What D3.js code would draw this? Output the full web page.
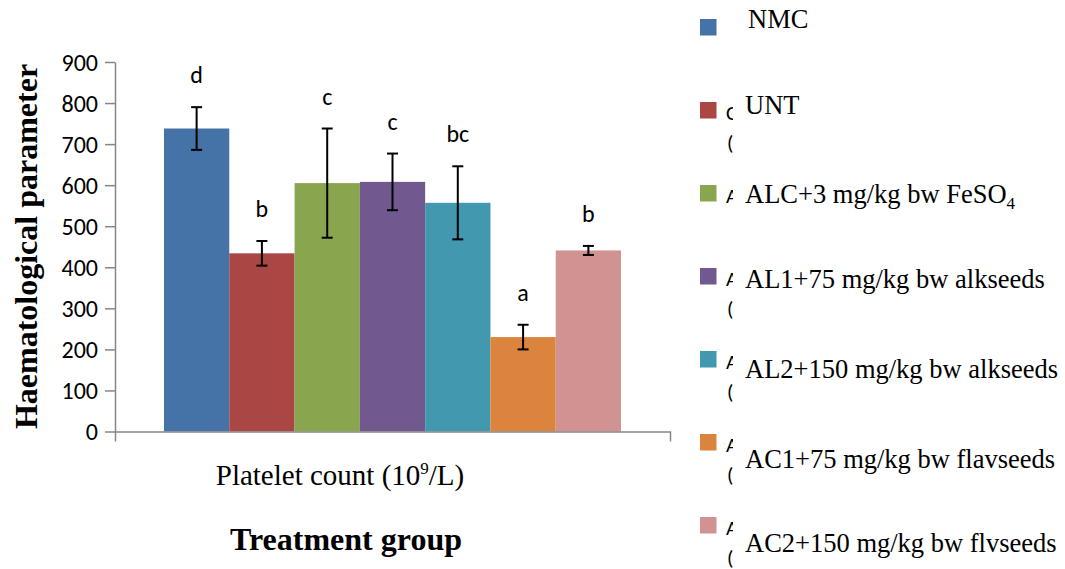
<!DOCTYPE html>
<html>
<head>
<meta charset="utf-8">
<script src="https://cdn.jsdelivr.net/npm/d3@7/dist/d3.min.js"></script>
<style>
  html, body { margin: 0; padding: 0; background: #fff; }
  svg { display: block; }
</style>
</head>
<body>
<svg id="chart" width="1065" height="569"></svg>
<script>
// ---------------- DATA ----------------
const category = "Platelet count";
const groups = [
  "NMC",
  "UNT",
  "ALC+3 mg/kg bw FeSO4",
  "AL1+75 mg/kg bw alkseeds",
  "AL2+150 mg/kg bw alkseeds",
  "AC1+75 mg/kg bw flavseeds",
  "AC2+150 mg/kg bw flvseeds"
];
const means  = [738, 434, 605, 608, 557, 230, 441];
const errors = [52, 30, 133, 69, 89, 30, 11];
const letters = ["d", "b", "c", "c", "bc", "a", "b"];
const yTicks = [0, 100, 200, 300, 400, 500, 600, 700, 800, 900];
const yTitle = "Haematological parameter";
const xTitle = "Treatment group";
// clipped remnants of an older legend text visible next to the swatches
const fragFirst  = ["", "C", "A", "A", "A", "A", "A"];
const fragSecond = ["", "(", "", "(", "(", "(", "("];

// ---------------- LAYOUT / STYLE ----------------
const svg = d3.select("#chart");
const colors = ["#4572A7", "#AA4643", "#89A54E", "#71588F", "#4198AF", "#DB843D", "#D19392"];
const axisColor = "#868686";
const sansFont = "Carlito, Calibri, 'Open Sans', Lato, sans-serif";
const serifFont = "'Liberation Serif', 'Times New Roman', serif";

const plot = { left: 115, right: 670, top: 62, bottom: 431.5 };

const y = d3.scaleLinear().domain([0, 900]).range([plot.bottom, plot.top]);
const x0 = d3.scaleBand().domain([category]).range([plot.left, plot.right])
  .paddingInner(0).paddingOuter(0.75 / 7);
const x1 = d3.scaleBand().domain(groups).range([x0(category), x0(category) + x0.bandwidth()]).padding(0);
const color = d3.scaleOrdinal().domain(groups).range(colors);

// bars
const bars = svg.append("g");
bars.selectAll("rect").data(groups).join("rect")
  .attr("x", d => x1(d))
  .attr("width", x1.bandwidth())
  .attr("y", (d, i) => y(means[i]))
  .attr("height", (d, i) => y(0) - y(means[i]))
  .attr("fill", d => color(d));

// y axis
const yAxis = svg.append("g").attr("transform", `translate(${plot.left},0)`)
  .call(d3.axisLeft(y).tickValues(yTicks).tickSize(10).tickSizeOuter(0).tickPadding(7));
yAxis.attr("font-family", null).attr("font-size", null);
yAxis.selectAll("path, line").attr("stroke", axisColor).attr("stroke-width", 1.5);
yAxis.selectAll("text")
  .style("font-family", sansFont).style("font-size", "24px").attr("fill", "#000")
  .attr("dy", "0.35em");

// x axis (category axis with edge ticks)
const xAxis = svg.append("g").attr("transform", `translate(0,${plot.bottom})`)
  .call(d3.axisBottom(x0.copy().paddingOuter(0)).tickSizeInner(0).tickSizeOuter(10).tickFormat(""));
xAxis.selectAll("path, line").attr("stroke", axisColor).attr("stroke-width", 1.5);

// error bars
const eb = svg.append("g").attr("stroke", "#000").attr("stroke-width", 2);
groups.forEach((g, i) => {
  const cx = x1(g) + x1.bandwidth() / 2;
  const top = y(means[i] + errors[i]);
  const bot = y(means[i] - errors[i]);
  eb.append("line").attr("x1", cx).attr("x2", cx).attr("y1", top).attr("y2", bot);
  eb.append("line").attr("x1", cx - 5.5).attr("x2", cx + 5.5).attr("y1", top).attr("y2", top);
  eb.append("line").attr("x1", cx - 5.5).attr("x2", cx + 5.5).attr("y1", bot).attr("y2", bot);
});

// significance letters
svg.append("g").selectAll("text").data(groups).join("text")
  .attr("x", d => x1(d) + x1.bandwidth() / 2)
  .attr("y", (d, i) => y(means[i] + errors[i]) - 24)
  .attr("text-anchor", "middle")
  .style("font-family", sansFont).style("font-size", "24px").attr("fill", "#000")
  .text((d, i) => letters[i]);

// y title
svg.append("text")
  .attr("transform", "translate(37,246.5) rotate(-90)")
  .attr("text-anchor", "middle")
  .attr("font-family", serifFont).attr("font-weight", "bold").attr("font-size", 32)
  .text(yTitle);

// category label with superscript
const cl = svg.append("text")
  .attr("x", 340).attr("y", 485).attr("text-anchor", "middle")
  .attr("font-family", serifFont).attr("font-size", 29);
cl.append("tspan").text(category + " (10");
cl.append("tspan").attr("font-size", 17).attr("dy", -11).text("9");
cl.append("tspan").attr("dy", 11).text("/L)");

// x title
svg.append("text")
  .attr("x", 346).attr("y", 550).attr("text-anchor", "middle")
  .attr("font-family", serifFont).attr("font-weight", "bold").attr("font-size", 32)
  .text(xTitle);

// legend
const legendTop = 19, legendStep = 83, sw = 16.5;
const textDy = [9, 12, 18, 20, 27, 34, 35];
const defs = svg.append("defs");
defs.append("clipPath").attr("id", "fragClip")
  .append("rect").attr("x", 720).attr("y", 0).attr("width", 13).attr("height", 569);
const lg = svg.append("g");
groups.forEach((g, i) => {
  const top = legendTop + i * legendStep;
  lg.append("rect").attr("x", 700).attr("y", top).attr("width", sw).attr("height", sw)
    .attr("fill", color(g));
  const fg = lg.append("g").attr("clip-path", "url(#fragClip)")
    .attr("font-family", sansFont).attr("font-size", 21).attr("fill", "#000");
  if (fragFirst[i]) fg.append("text").attr("x", 726).attr("y", top + sw + 1).text(fragFirst[i]);
  if (fragSecond[i]) fg.append("text").attr("x", 727).attr("y", top + sw + 1 + 30).text(fragSecond[i]);
  const t = lg.append("text")
    .attr("x", i === 0 ? 748 : 745).attr("y", top + textDy[i])
    .attr("font-family", serifFont).attr("font-size", 26.5).attr("fill", "#000");
  const m = g.match(/^(.*FeSO)(4)$/);
  if (m) {
    t.append("tspan").text(m[1]);
    t.append("tspan").attr("font-size", 17).attr("dy", 6).text(m[2]);
  } else {
    t.text(g);
  }
});
</script>
</body>
</html>
